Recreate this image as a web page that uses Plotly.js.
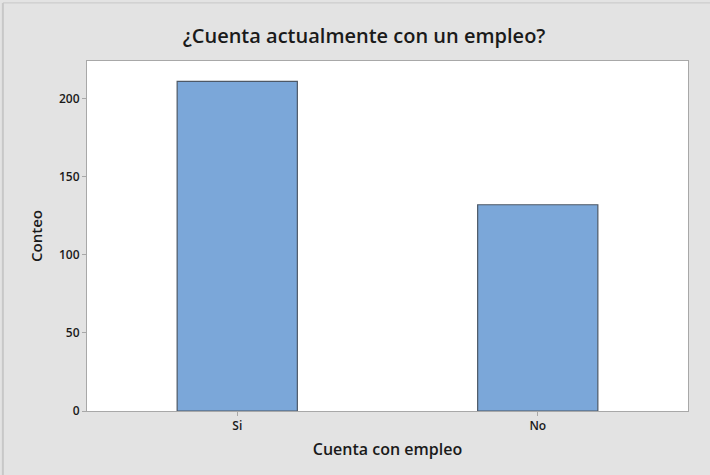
<!DOCTYPE html>
<html><head><meta charset="utf-8">
<script src="https://cdn.plot.ly/plotly-3.0.1.min.js"></script>
<style>html,body{margin:0;padding:0;background:#e3e3e3;}</style>
</head><body>
<div id="chart" style="width:710px;height:475px;"></div>
<script>
const categories = ["Si", "No"];
const counts = [211, 132];
const yTicks = [0, 50, 100, 150, 200];

const font = '"Open Sans", "Noto Sans", sans-serif';
const trace = {
  type: 'bar', x: categories, y: counts, width: 0.4,
  marker: {color: '#7ba7d9', line: {color: '#4d5866', width: 1.2}},
  hoverinfo: 'x+y'
};
const layout = {
  width: 710, height: 475,
  paper_bgcolor: '#e3e3e3', plot_bgcolor: '#ffffff',
  margin: {l: 87, r: 22, t: 61, b: 64},
  showlegend: false,
  title: {text: '¿Cuenta actualmente con un empleo?', xref: 'paper', x: 0.461, xanchor: 'center', y: 0.925, yanchor: 'middle',
          font: {family: font, size: 20, color: '#1a1a1a', weight: 600}},
  xaxis: {type: 'category', range: [-0.5, 1.5], showgrid: false, zeroline: false,
          showline: true, linecolor: '#a8a8a8', linewidth: 1, mirror: true,
          ticks: 'outside', ticklen: 4, tickcolor: '#a8a8a8',
          tickfont: {family: font, size: 12, color: '#1a1a1a', weight: 600},
          title: {text: 'Cuenta con empleo', font: {family: font, size: 16, color: '#1a1a1a', weight: 600}, standoff: 10}},
  yaxis: {range: [0, 224], showgrid: false, zeroline: false, tickvals: yTicks,
          showline: true, linecolor: '#a8a8a8', linewidth: 1, mirror: true,
          ticks: 'outside', ticklen: 4, tickcolor: '#a8a8a8',
          tickfont: {family: font, size: 12, color: '#1a1a1a', weight: 600},
          title: {text: 'Conteo', font: {family: font, size: 15, color: '#1a1a1a', weight: 600}, standoff: 12}},
  shapes: [
    {type: 'line', xref: 'paper', yref: 'paper', x0: -0.14, x1: -0.14, y0: -0.19, y1: 1.166, line: {color: '#c8c8c8', width: 2}},
    {type: 'line', xref: 'paper', yref: 'paper', x0: -0.14, x1: 1.04, y0: 1.166, y1: 1.166, line: {color: '#c8c8c8', width: 1}}
  ]
};
Plotly.newPlot('chart', [trace], layout, {displayModeBar: false, staticPlot: true});
</script>
</body></html>
